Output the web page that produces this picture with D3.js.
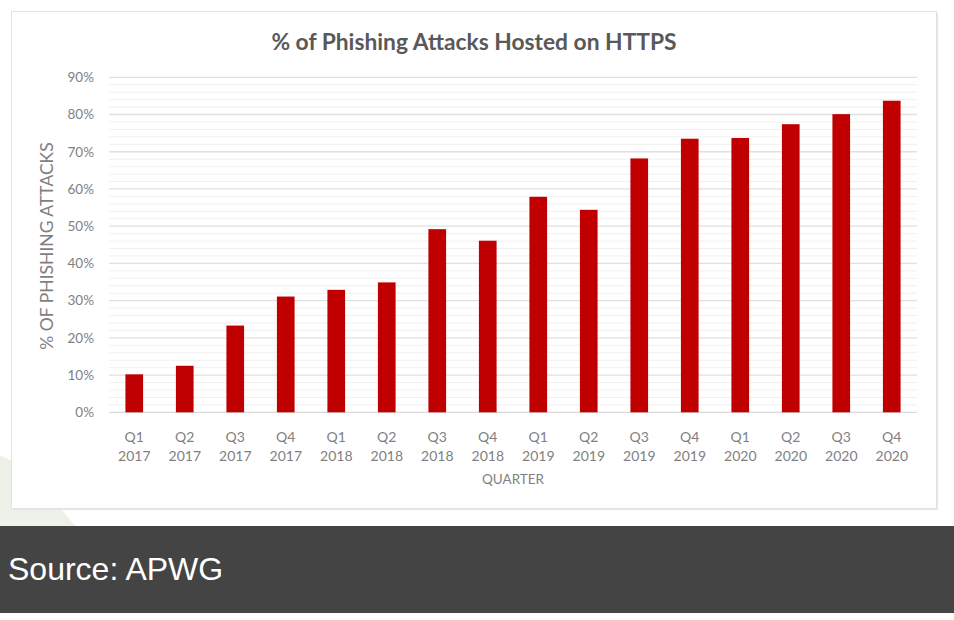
<!DOCTYPE html>
<html>
<head>
<meta charset="utf-8">
<script src="https://cdn.jsdelivr.net/npm/d3@7"></script>
<style>
  html, body { margin: 0; padding: 0; background: #ffffff; }
  svg { display: block; }
</style>
</head>
<body>
<script>
const categories = ["Q1 2017","Q2 2017","Q3 2017","Q4 2017","Q1 2018","Q2 2018","Q3 2018","Q4 2018",
                    "Q1 2019","Q2 2019","Q3 2019","Q4 2019","Q1 2020","Q2 2020","Q3 2020","Q4 2020"];
const values = [10.2, 12.5, 23.3, 31.1, 32.9, 34.9, 49.2, 46.1, 57.9, 54.4, 68.2, 73.5, 73.7, 77.4, 80.1, 83.7];
const yTicks = [0, 10, 20, 30, 40, 50, 60, 70, 80, 90];
const minorTicks = d3.range(0, 91, 2);
const title = "% of Phishing Attacks Hosted on HTTPS";
const yTitle = "% OF PHISHING ATTACKS";
const xTitle = "QUARTER";
const source = "Source: APWG";

const W = 954, H = 620;
const svg = d3.select("body").append("svg").attr("width", W).attr("height", H);

// background decoration
svg.append("path").attr("d", "M0,455 L0,526 L75,526 L30,470 Z").attr("fill", "#eef1ea");

// panel
svg.append("rect").attr("x", 12).attr("y", 12).attr("width", 925).attr("height", 497)
  .attr("fill", "#e6e6e6").attr("transform", "translate(1,1)");
svg.append("rect").attr("x", 11.5).attr("y", 11.5).attr("width", 925).attr("height", 497)
  .attr("fill", "#ffffff").attr("stroke", "#e2e2e2").attr("stroke-width", 1);

const x = d3.scaleBand().domain(categories).range([109, 917]).paddingInner(0.65).paddingOuter(0.325);
const y = d3.scaleLinear().domain([0, 90]).range([412.3, 77.3]);

const font = "Lato, 'Open Sans', sans-serif";

// minor grid
svg.append("g").selectAll("line").data(minorTicks.filter(d => d % 10 !== 0)).join("line")
  .attr("x1", 109).attr("x2", 917)
  .attr("y1", d => y(d)).attr("y2", d => y(d))
  .attr("stroke", "#f0f0f0").attr("stroke-width", 1);

// major grid
svg.append("g").selectAll("line").data(yTicks).join("line")
  .attr("x1", 109).attr("x2", 917)
  .attr("y1", d => y(d)).attr("y2", d => y(d))
  .attr("stroke", d => d === 0 ? "#d9d9d9" : "#e0e0e0").attr("stroke-width", 1.3);

// y axis labels
const yAxis = d3.axisLeft(y).tickValues(yTicks).tickFormat(d => d + "%").tickSize(0).tickPadding(0);
const gy = svg.append("g").attr("transform", "translate(94,0)").call(yAxis);
gy.select(".domain").remove();
gy.selectAll("text").attr("fill", "#7f7f7f").style("font-family", font).style("font-size", "13.5px");

// bars
svg.append("g").selectAll("rect").data(values).join("rect")
  .attr("x", (d, i) => x(categories[i]))
  .attr("width", x.bandwidth())
  .attr("y", d => y(d))
  .attr("height", d => y(0) - y(d))
  .attr("fill", "#c00000");

// x axis labels
const xAxis = d3.axisBottom(x).tickSize(0).tickFormat("");
const gx = svg.append("g").attr("transform", `translate(0,${y(0)})`).call(xAxis);
gx.select(".domain").remove();
gx.selectAll(".tick").each(function(d) {
  const parts = d.split(" ");
  const t = d3.select(this).append("text")
    .attr("text-anchor", "middle").attr("fill", "#7f7f7f")
    .style("font-family", font).style("font-size", "14px");
  t.append("tspan").attr("x", 0).attr("y", 30).text(parts[0]);
  t.append("tspan").attr("x", 0).attr("y", 49).text(parts[1]);
});

// titles
svg.append("text").attr("x", 474).attr("y", 50).attr("text-anchor", "middle")
  .attr("fill", "#595959").style("font-family", font).style("font-weight", "bold").style("font-size", "22.8px")
  .text(title);

svg.append("text").attr("x", 513).attr("y", 484).attr("text-anchor", "middle")
  .attr("fill", "#7f7f7f").style("font-family", font).style("font-size", "13.5px")
  .text(xTitle);

svg.append("text").attr("transform", "translate(53,246) rotate(-90)").attr("text-anchor", "middle")
  .attr("fill", "#7f7f7f").style("font-family", font).style("font-size", "17.5px")
  .text(yTitle);

// source band
svg.append("rect").attr("x", 0).attr("y", 526).attr("width", W).attr("height", 87).attr("fill", "#444444");
svg.append("text").attr("x", 8).attr("y", 580)
  .attr("fill", "#ffffff").style("font-family", "'Liberation Sans', Arial, sans-serif").style("font-size", "32px")
  .text(source);
</script>
</body>
</html>
